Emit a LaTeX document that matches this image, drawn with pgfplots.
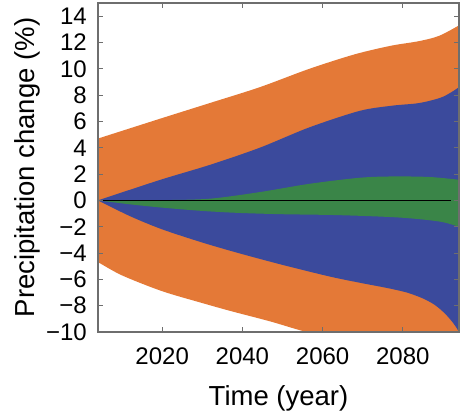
\documentclass[border=0pt]{standalone}
\usepackage{pgfplots}
\pgfplotsset{compat=1.18}
\usepgfplotslibrary{fillbetween}
\usepackage{fontspec}
\setmainfont{Liberation Sans}
\definecolor{cOr}{RGB}{228,121,55}
\definecolor{cBl}{RGB}{59,74,156}
\definecolor{cGr}{RGB}{58,133,72}
\definecolor{cAx}{RGB}{110,110,110}
\begin{document}
\begin{tikzpicture}
\begin{axis}[
  scale only axis, width=361pt, height=329pt,
  xmin=2004, xmax=2094, ymin=-10, ymax=15,
  axis on top,
  axis line style={cAx, line width=1.2pt},
  tick style={cAx, line width=0.9pt}, major tick length=5pt,
  tick align=inside,
  xtick={2020,2040,2060,2080}, xticklabels={2020,2040,2060,2080},
  ytick={-10,-8,-6,-4,-2,0,2,4,6,8,10,12,14},
  yticklabels={−10,−8,−6,−4,−2,0,2,4,6,8,10,12,14},
  ticklabel style={font=\fontsize{24}{28}\selectfont, inner sep=0pt, text=black},
  xticklabel style={anchor=north, yshift=-16pt},
  yticklabel style={anchor=east, xshift=-11pt},
  xlabel={Time (year)},
  ylabel={Precipitation change (\%)},
  xlabel style={font=\fontsize{27.5}{32}\selectfont, at={(axis description cs:0.5,-0.222)}, anchor=base},
  ylabel style={font=\fontsize{27.5}{32}\selectfont, at={(axis description cs:-0.177,0.5)}, anchor=base},
]
% orange band
\addplot[name path=ou, draw=none, smooth] coordinates {
(2002,4.5)(2004,4.7)(2019.4,6.2)(2031.9,7.4)(2044.3,8.6)(2056.7,10.0)(2068,11.1)(2077,11.75)(2084,12.1)(2089,12.5)(2094,13.3)(2096,13.7)};
\addplot[name path=ol, draw=none, smooth] coordinates {
(2002,-4.5)(2004,-4.7)(2010,-5.7)(2020,-6.9)(2030,-7.8)(2037,-8.4)(2047,-9.2)(2056,-10.0)(2070,-11)(2085,-12)(2096,-13)};
\addplot[cOr] fill between[of=ou and ol];
% blue band
\addplot[name path=bu, draw=none, smooth] coordinates {
(2004,0)(2019.4,1.55)(2031.9,2.7)(2044.3,4.0)(2056.7,5.55)(2069.2,6.8)(2077.4,7.2)(2084.1,7.4)(2089.8,7.85)(2094,8.6)(2096,9.1)};
\addplot[name path=bl, draw=none, smooth] coordinates {
(2004,0)(2012,-1.2)(2020,-2.2)(2030,-3.2)(2039,-4.0)(2050,-4.9)(2062,-5.8)(2070,-6.3)(2076,-6.65)(2081,-7.0)(2085,-7.45)(2088,-7.95)(2090.5,-8.6)(2092.5,-9.3)(2094,-10)(2095.5,-11)};
\addplot[cBl] fill between[of=bu and bl];
% green band
\addplot[name path=gu, draw=none, smooth] coordinates {
(2004,0)(2020,0.02)(2031.9,0.13)(2044.3,0.63)(2056.7,1.26)(2069.2,1.72)(2077.4,1.82)(2086.6,1.78)(2094,1.57)(2096,1.5)};
\addplot[name path=gl, draw=none, smooth] coordinates {
(2004,0)(2012,-0.3)(2020,-0.55)(2030,-0.8)(2039,-0.95)(2050,-1.05)(2064,-1.12)(2079,-1.3)(2089,-1.6)(2094,-2.0)(2096,-2.2)};
\addplot[cGr] fill between[of=gu and gl];
% zero line
\addplot[black, line width=1pt] coordinates {(2005.3,0)(2092,0)};
\end{axis}
\pgfresetboundingbox
\path (current axis.south west) ++(-98pt,-81pt) rectangle ++(460pt,413pt);
\end{tikzpicture}
\end{document}
